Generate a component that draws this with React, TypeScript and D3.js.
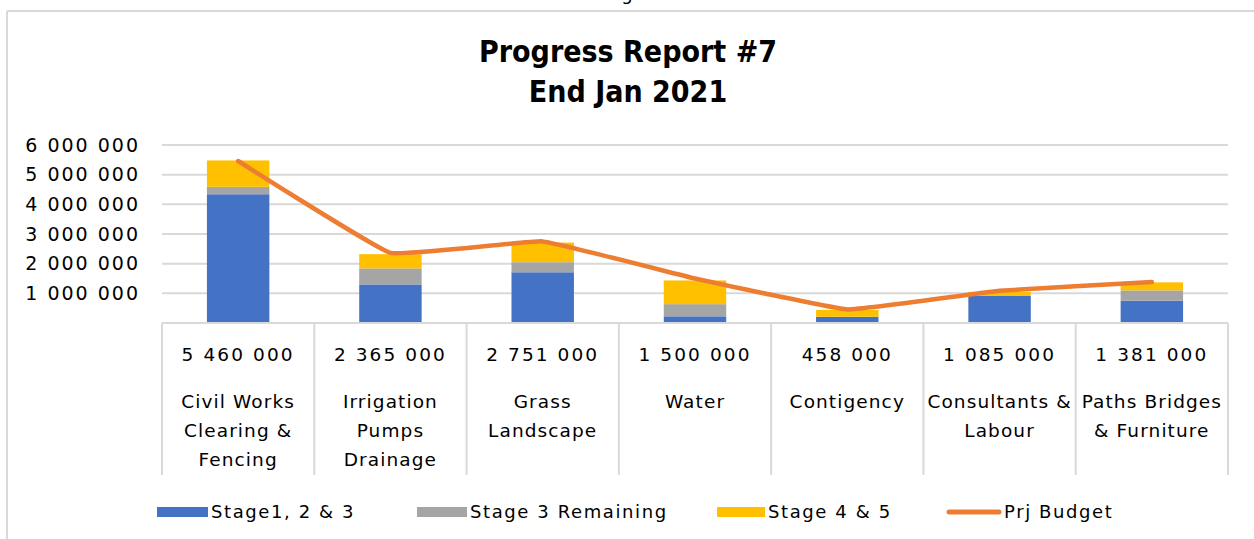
import React from 'react';
import * as d3 from 'd3';

const categories = [
  ['Civil Works', 'Clearing &', 'Fencing'],
  ['Irrigation', 'Pumps', 'Drainage'],
  ['Grass', 'Landscape'],
  ['Water'],
  ['Contigency'],
  ['Consultants &', 'Labour'],
  ['Paths Bridges', '& Furniture'],
];
const budgetLabels = ['5 460 000', '2 365 000', '2 751 000', '1 500 000', '458 000', '1 085 000', '1 381 000'];
const stage123 = [4340000, 1300000, 1710000, 225000, 210000, 910000, 750000];
const stage3Remaining = [250000, 540000, 340000, 410000, 0, 0, 350000];
const stage45 = [890000, 480000, 660000, 800000, 230000, 140000, 270000];
const prjBudget = [5460000, 2365000, 2751000, 1500000, 458000, 1085000, 1381000];
const yTicks = [1000000, 2000000, 3000000, 4000000, 5000000, 6000000];

const seriesNames = ['Stage1, 2 & 3', 'Stage 3 Remaining', 'Stage 4 & 5'];
const seriesColors = ['#4472C4', '#A5A5A5', '#FFC000'];
const lineColor = '#ED7D31';

const W = 1254;
const H = 539;
const font = '"DejaVu Sans", sans-serif';

export default function App() {
  const x = d3.scaleBand<number>().domain(d3.range(categories.length)).range([162, 1228]);
  const y = d3.scaleLinear().domain([0, 6000000]).range([323, 145]);
  const barW = x.bandwidth() * 0.41;

  const rows = categories.map((_, i) => ({ i, s0: stage123[i], s1: stage3Remaining[i], s2: stage45[i] }));
  const stacked = d3.stack<any>().keys(['s0', 's1', 's2'])(rows);

  const line = d3
    .line<number>()
    .x((_, i) => x(i)! + x.bandwidth() / 2)
    .y((d) => y(d))
    .curve(d3.curveCardinal.tension(0.75));

  const fmt = (v: number) => d3.format(',')(v).replace(/,/g, ' ');

  const legend = [
    { label: seriesNames[0], color: seriesColors[0], x: 157, w: 51, type: 'rect' },
    { label: seriesNames[1], color: seriesColors[1], x: 417, w: 50, type: 'rect' },
    { label: seriesNames[2], color: seriesColors[2], x: 717, w: 48, type: 'rect' },
    { label: 'Prj Budget', color: lineColor, x: 947, w: 54, type: 'line' },
  ];

  return (
    <svg width={W} height={H} style={{ position: 'absolute', left: 0, top: 0, background: '#fff' }}>
      <rect x={0} y={0} width={W} height={H} fill="#fff" />
      {/* bit of text above the frame */}
      <text x={627} y={0} fontFamily={font} fontSize={18} textAnchor="middle" fill="#000">g</text>
      {/* frame */}
      <line x1={7} x2={W} y1={11} y2={11} stroke="#D9D9D9" strokeWidth={2} />
      <line x1={7} x2={7} y1={11} y2={H} stroke="#D9D9D9" strokeWidth={2} />

      {/* title */}
      <g fontFamily='"Liberation Sans Narrow", "DejaVu Sans Condensed", sans-serif' fontWeight="bold" fontSize={30} textAnchor="middle" fill="#000">
        <text x={628} y={62}>Progress Report #7</text>
        <text x={628} y={102}>End Jan 2021</text>
      </g>

      {/* gridlines */}
      {yTicks.map((t) => (
        <line key={t} x1={162} x2={1228} y1={y(t)} y2={y(t)} stroke="#D9D9D9" strokeWidth={2} />
      ))}
      {yTicks.map((t) => (
        <text key={'l' + t} x={140} y={y(t)} dy="0.35em" textAnchor="end" fontFamily={font} fontSize={19} letterSpacing={2} fill="#000">
          {fmt(t)}
        </text>
      ))}

      {/* stacked bars */}
      {stacked.map((layer, k) =>
        layer.map((d, i) => (
          <rect
            key={k + '-' + i}
            x={x(i)! + (x.bandwidth() - barW) / 2}
            width={barW}
            y={y(d[1])}
            height={Math.max(0, y(d[0]) - y(d[1]))}
            fill={seriesColors[k]}
          />
        ))
      )}

      {/* budget line */}
      <path d={line(prjBudget)!} fill="none" stroke={lineColor} strokeWidth={4.5} strokeLinecap="round" strokeLinejoin="round" />

      {/* data table */}
      <line x1={162} x2={1228} y1={323} y2={323} stroke="#D9D9D9" strokeWidth={2} />
      {d3.range(categories.length + 1).map((i) => {
        const xx = i < categories.length ? x(i)! : 1228;
        return <line key={'v' + i} x1={xx} x2={xx} y1={323} y2={475} stroke="#D9D9D9" strokeWidth={2} />;
      })}
      {categories.map((lines, i) => {
        const cx = x(i)! + x.bandwidth() / 2;
        return (
          <g key={'c' + i} fontFamily={font} fontSize={18.5} textAnchor="middle" fill="#000">
            <text x={cx} y={355} dy="0.35em" letterSpacing={2.1}>{budgetLabels[i]}</text>
            {lines.map((ln, j) => (
              <text key={j} x={cx} y={402 + j * 29} dy="0.35em" letterSpacing={1.1}>{ln}</text>
            ))}
          </g>
        );
      })}

      {/* legend */}
      {legend.map((l) => (
        <g key={l.label}>
          {l.type === 'rect' ? (
            <rect x={l.x} y={507} width={l.w} height={10} fill={l.color} />
          ) : (
            <line x1={l.x + 2} x2={l.x + l.w - 2} y1={512} y2={512} stroke={l.color} strokeWidth={5} strokeLinecap="round" />
          )}
          <text x={l.x + l.w + 3} y={512} dy="0.35em" fontFamily={font} fontSize={18} letterSpacing={1.6} fill="#000">
            {l.label}
          </text>
        </g>
      ))}
    </svg>
  );
}
